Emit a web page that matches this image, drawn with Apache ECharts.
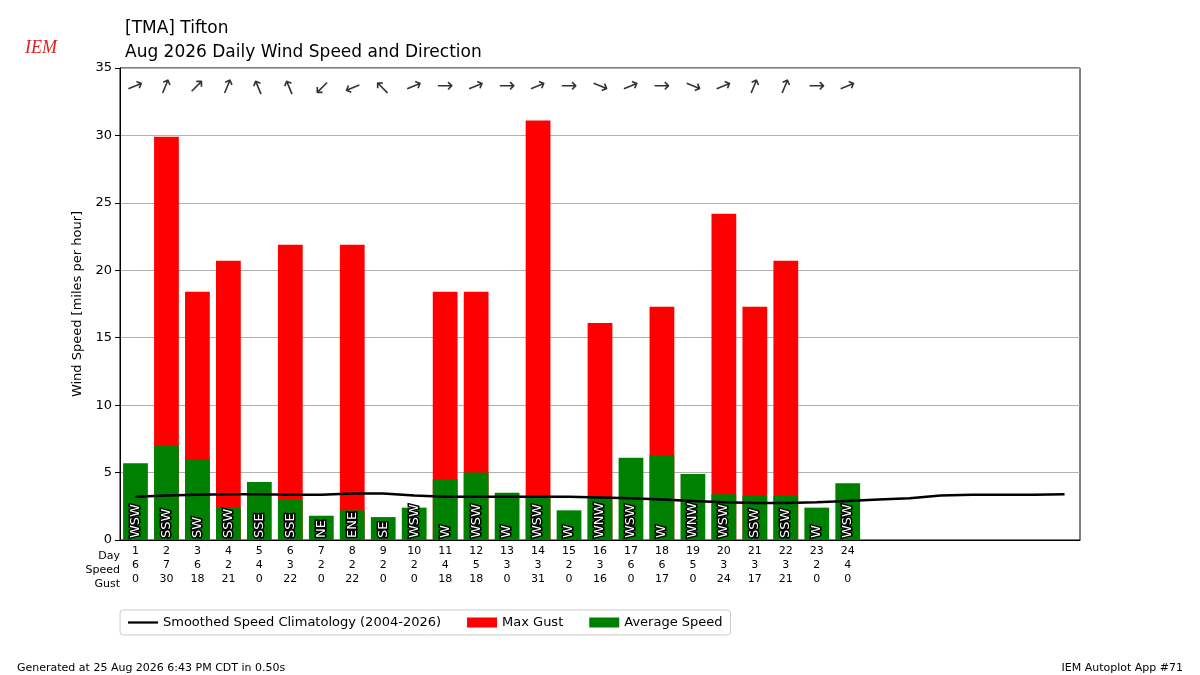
<!DOCTYPE html><html><head><meta charset="utf-8"><script src="https://cdn.jsdelivr.net/npm/echarts@6/dist/echarts.min.js"></script></head><body style="margin:0"><div id="c" style="width:1200px;height:675px"></div><script>
const days=[];for(let i=1;i<=31;i++)days.push(String(i));
const avgSpeed=[5.7,7.0,6.0,2.4,4.3,3.0,1.8,2.2,1.7,2.4,4.5,5.0,3.5,3.3,2.2,3.2,6.1,6.3,4.9,3.4,3.3,3.3,2.4,4.2];
const maxGust=[0,29.9,18.4,20.7,0,21.9,0,21.9,0,0,18.4,18.4,0,31.1,0,16.1,0,17.3,0,24.2,17.3,20.7,0,0];
const speedRow=[6,7,6,2,4,3,2,2,2,2,4,5,3,3,2,3,6,6,5,3,3,3,2,4];
const gustRow=[0,30,18,21,0,22,0,22,0,0,18,18,0,31,0,16,0,17,0,24,17,21,0,0];
const dirLabel=['WSW','SSW','SW','SSW','SSE','SSE','NE','ENE','SE','WSW','W','WSW','W','WSW','W','WNW','WSW','W','WNW','WSW','SSW','SSW','W','WSW'];
const clim=[3.2,3.3,3.35,3.4,3.4,3.35,3.35,3.45,3.45,3.3,3.2,3.2,3.2,3.2,3.2,3.15,3.1,3.0,2.9,2.8,2.75,2.75,2.8,2.9,3.0,3.1,3.3,3.35,3.35,3.35,3.4];
const pts={N:0,NNE:22.5,NE:45,ENE:67.5,E:90,ESE:112.5,SE:135,SSE:157.5,S:180,SSW:202.5,SW:225,WSW:247.5,W:270,WNW:292.5,NW:315,NNW:337.5};
const ch=echarts.init(document.getElementById('c'));
const F='DejaVu Sans';
ch.setOption({animation:false,textStyle:{fontFamily:F},
title:[{text:'[TMA] Tifton\nAug 2026 Daily Wind Speed and Direction',left:120,top:12,textStyle:{fontSize:17,fontWeight:'normal',lineHeight:24,color:'#000',fontFamily:F}},
{text:'Generated at 25 Aug 2026 6:43 PM CDT in 0.50s',left:12,top:658,textStyle:{fontSize:11,fontWeight:'normal',color:'#000'}},
{text:'IEM Autoplot App #71',right:12,top:658,textStyle:{fontSize:11,fontWeight:'normal',color:'#000'}},
{text:'IEM',left:20,top:34,textStyle:{fontSize:18,fontStyle:'italic',fontFamily:'Liberation Serif',color:'#d22',fontWeight:'normal'}}],
graphic:[{type:'text',x:120,y:549,style:{text:'Day\nSpeed\nGust',fill:'#000',font:'11px DejaVu Sans',lineHeight:14,textAlign:'right'}}],
grid:{left:120,right:120,top:68,bottom:135,show:true,borderColor:'#000',borderWidth:1,backgroundColor:'transparent'},
legend:{bottom:40,left:120,itemGap:26,borderColor:'#ccc',borderWidth:1,borderRadius:3,padding:[6,8],textStyle:{fontSize:13,color:'#000'},
data:[{name:'Smoothed Speed Climatology (2004-2026)',icon:'path://M0,3.5L40,3.5L40,6.5L0,6.5Z',itemStyle:{color:'#000'}},{name:'Max Gust',icon:'rect'},{name:'Average Speed',icon:'rect'}],itemWidth:30,itemHeight:10},
xAxis:{type:'category',data:days,boundaryGap:true,axisTick:{show:false},axisLine:{lineStyle:{color:'#000'}},
axisLabel:{interval:0,color:'#000',fontSize:11,lineHeight:14,margin:4,formatter:(v,i)=>i<24?v+'\n'+speedRow[i]+'\n'+gustRow[i]:''}},
yAxis:{type:'value',min:0,max:35,interval:5,name:'Wind Speed [miles per hour]',nameLocation:'middle',nameGap:35,nameTextStyle:{fontSize:13,color:'#000'},
axisLine:{show:true,lineStyle:{color:'#000'}},axisTick:{show:true},axisLabel:{color:'#000',fontSize:13},splitLine:{lineStyle:{color:'#b0b0b0'}}},
series:[
{name:'Max Gust',type:'bar',data:maxGust,barWidth:'80%',itemStyle:{color:'#ff0000'}},
{name:'Average Speed',type:'bar',data:avgSpeed,barWidth:'80%',barGap:'-100%',itemStyle:{color:'#008000'},
label:{show:true,position:'insideBottom',rotate:90,align:'left',verticalAlign:'middle',distance:2,formatter:p=>dirLabel[p.dataIndex],color:'#fff',fontSize:13,textBorderColor:'#000',textBorderWidth:3}},
{name:'Smoothed Speed Climatology (2004-2026)',type:'line',data:clim,symbol:'none',lineStyle:{color:'#000',width:2.5},itemStyle:{color:'#000'},z:5},
{name:'arrows',type:'scatter',symbolSize:0,data:dirLabel.map((d,i)=>({value:[i,33.6],label:{rotate:90-(pts[d]+180)}})),
label:{show:true,position:'inside',formatter:'→',fontSize:20,color:'#000'},silent:true}
]});
</script></body></html>
